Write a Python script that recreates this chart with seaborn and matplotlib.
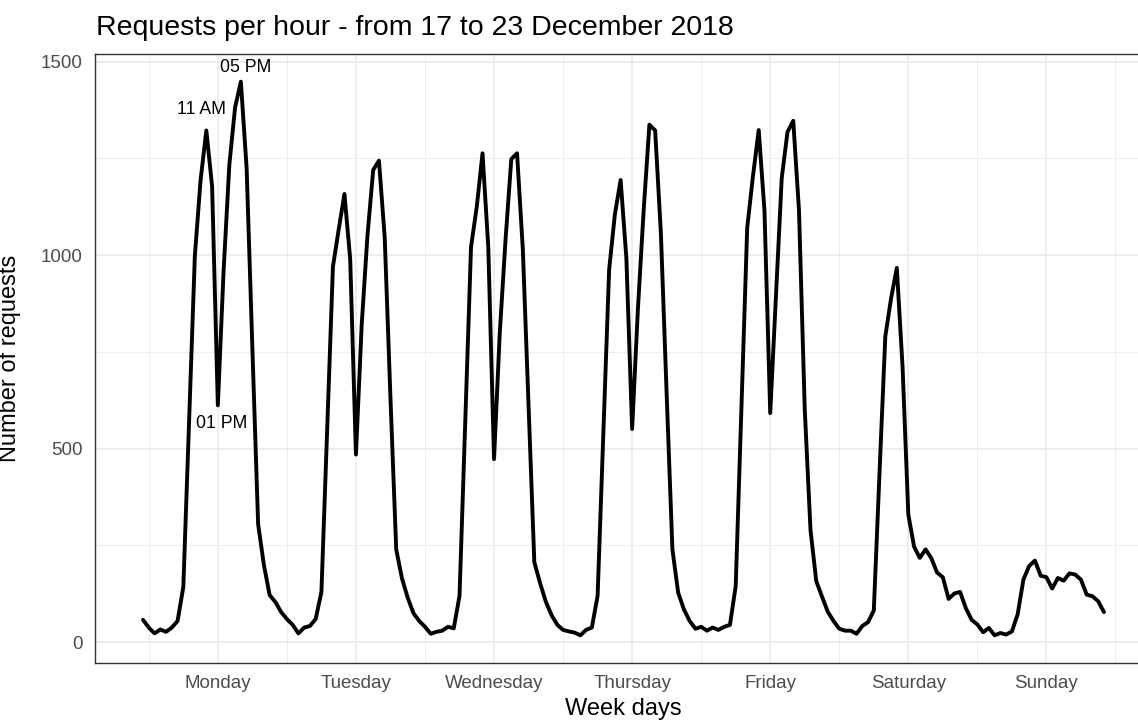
import numpy as np
import pandas as pd
import seaborn as sns
import matplotlib.pyplot as plt

# Hourly request counts, 17-23 December 2018 (hour 0 = Monday 00:00)
days = ['Monday', 'Tuesday', 'Wednesday', 'Thursday', 'Friday', 'Saturday', 'Sunday']

monday = [58, 38, 23, 33, 27, 38, 55, 143, 570, 997, 1194, 1322,
          1178, 612, 960, 1234, 1382, 1448, 1225, 760, 305, 200, 122, 104]
tuesday = [78, 60, 45, 23, 38, 42, 60, 130, 550, 970, 1066, 1158,
           990, 485, 820, 1050, 1220, 1244, 1046, 630, 240, 165, 115, 75]
wednesday = [55, 40, 22, 27, 30, 40, 36, 120, 570, 1021, 1125, 1263,
             1021, 473, 800, 1040, 1248, 1263, 1016, 612, 207, 153, 105, 70]
thursday = [45, 32, 28, 25, 18, 32, 38, 120, 545, 962, 1105, 1194,
            992, 551, 860, 1115, 1337, 1322, 1056, 641, 240, 128, 85, 55]
friday = [35, 40, 30, 38, 32, 40, 45, 145, 610, 1071, 1204, 1323,
          1115, 592, 898, 1199, 1318, 1347, 1115, 602, 290, 158, 118, 79]
saturday = [55, 35, 30, 30, 22, 42, 52, 82, 440, 790, 888, 967,
            711, 330, 247, 218, 240, 217, 180, 168, 112, 126, 130, 88]
sunday = [58, 46, 26, 37, 18, 24, 20, 28, 72, 162, 197, 211,
          172, 168, 139, 166, 159, 178, 175, 162, 123, 119, 106, 78]

requests = monday + tuesday + wednesday + thursday + friday + saturday + sunday
df = pd.DataFrame({'hour': np.arange(len(requests)), 'requests': requests})

# labelled hours on Monday
peak_hours = [11, 13, 17]
peak_labels = ['11 AM', '01 PM', '05 PM']

sns.set_style('white')
plt.rcParams['font.family'] = ['Liberation Sans', 'DejaVu Sans']

fig = plt.figure(figsize=(11.38, 7.2), dpi=100)
# panel runs a little past the right edge of the picture (cropped like the original)
ax = fig.add_axes([95 / 1138, 1 - 663 / 720, 1057 / 1138, 609 / 720])

sns.lineplot(data=df, x='hour', y='requests', color='black', linewidth=2.8, ax=ax)

# ggplot-like 5% expansion
n = len(requests)
ax.set_xlim(-0.05 * (n - 1), (n - 1) * 1.05)
lo, hi = min(requests), max(requests)
ax.set_ylim(lo - 0.05 * (hi - lo), hi + 0.05 * (hi - lo))

ax.set_xticks([13 + 24 * d for d in range(len(days))])
ax.set_xticklabels(days)
ax.set_xticks([1 + 24 * d for d in range(len(days) + 1)], minor=True)
ax.set_yticks([0, 500, 1000, 1500])
ax.set_yticks([250, 750, 1250], minor=True)

ax.grid(which='major', color='#EBEBEB', linewidth=1.2)
ax.grid(which='minor', color='#EBEBEB', linewidth=0.6)
ax.set_axisbelow(True)
for s in ax.spines.values():
    s.set_color('#333333')
    s.set_linewidth(1.0)
ax.tick_params(which='major', length=4, width=1, color='#333333',
               labelcolor='#4D4D4D', labelsize=13.5, pad=5)
ax.tick_params(which='minor', length=0)

offsets = {11: (-0.9, 55), 13: (0.7, -48), 17: (0.9, 37)}
for h, lab in zip(peak_hours, peak_labels):
    dx, dy = offsets[h]
    ax.text(h + dx, requests[h] + dy, lab, ha='center', va='center',
            fontsize=12.7, color='black')

ax.set_xlabel('Week days', fontsize=17, color='black')
ax.set_ylabel('Number of requests', fontsize=17, color='black')
ax.xaxis.set_label_coords(0.5, -0.058)
ax.yaxis.set_label_coords(-0.07, 0.5)

fig.text(96 / 1138, 1 - 28 / 720, 'Requests per hour - from 17 to 23 December 2018',
         fontsize=20.5, ha='left', va='center', color='black')

fig.savefig('out.png', dpi=100)
